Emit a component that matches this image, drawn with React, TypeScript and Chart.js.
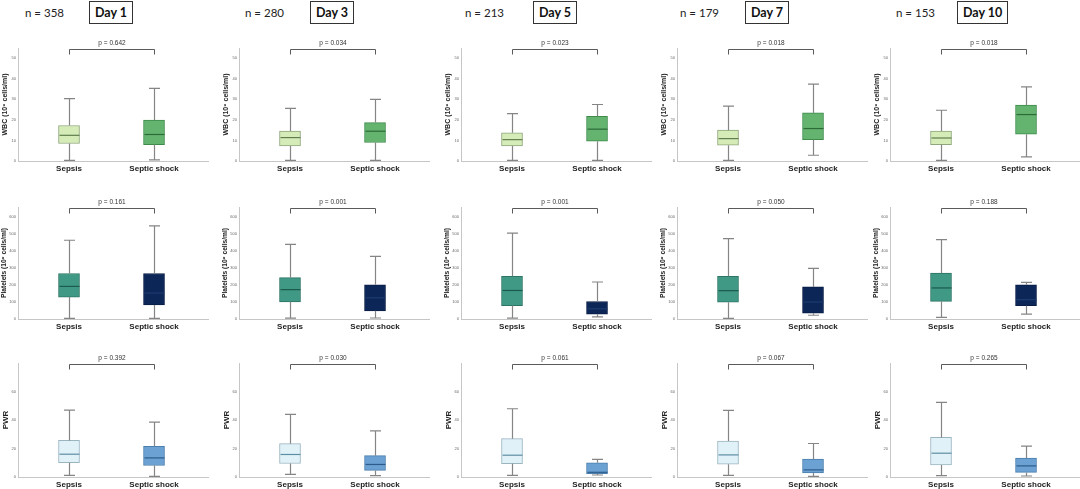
import { useEffect, useRef } from 'react';
import { Chart, registerables } from 'chart.js';

Chart.register(...registerables);

// ---------- data ----------
const days = ['Day 1', 'Day 3', 'Day 5', 'Day 7', 'Day 10'];
const nCounts = [358, 280, 213, 179, 153];
const groups = ['Sepsis', 'Septic shock'];

// [min, q1, median, q3, max] per day
const wbcSepsis = [
  [0.3, 8.5, 12.5, 17.3, 30.4],
  [0.3, 7.3, 11.4, 14.6, 25.6],
  [0.3, 7.3, 10.4, 13.7, 23.1],
  [0.3, 7.7, 10.9, 15.0, 26.7],
  [0.3, 8.0, 11.2, 14.6, 24.7],
];
const wbcShock = [
  [0.5, 8.0, 12.9, 19.9, 35.3],
  [0.3, 9.0, 14.5, 18.7, 30.0],
  [0.3, 9.6, 15.5, 21.8, 27.5],
  [2.8, 10.4, 15.8, 23.4, 37.4],
  [2.0, 13.0, 22.6, 27.2, 36.1],
];
const pltSepsis = [
  [4, 129, 192, 268, 464],
  [5, 101, 173, 244, 440],
  [5, 79, 168, 252, 506],
  [4, 99, 167, 252, 474],
  [9, 104, 183, 271, 468],
];
const pltShock = [
  [4, 83, 153, 268, 549],
  [6, 48, 125, 202, 369],
  [12, 28, 60, 103, 218],
  [22, 34, 100, 189, 298],
  [29, 78, 114, 202, 216],
];
const pwrSepsis = [
  [1.2, 10.0, 16.0, 25.7, 47.0],
  [1.9, 9.5, 15.8, 23.4, 44.0],
  [1.2, 9.3, 15.3, 26.9, 47.9],
  [1.1, 9.0, 15.5, 25.2, 46.7],
  [1.0, 8.5, 16.7, 27.8, 52.3],
];
const pwrShock = [
  [0.5, 8.1, 13.4, 21.5, 38.5],
  [1.0, 4.6, 8.8, 15.0, 32.4],
  [1.4, 2.3, 3.3, 10.0, 12.3],
  [0.4, 2.8, 5.0, 12.5, 23.5],
  [0.7, 3.2, 7.8, 13.2, 21.7],
];

const wbcP = ['0.642', '0.034', '0.023', '0.018', '0.018'];
const pltP = ['0.161', '0.001', '0.001', '0.050', '0.188'];
const pwrP = ['0.392', '0.030', '0.061', '0.067', '0.265'];

const wbcTicks = [0, 10, 20, 30, 40, 50];
const pltTicks = [0, 100, 200, 300, 400, 500, 600];
const pwrTicks = [0, 20, 40, 60];

// ---------- layout / style ----------
const AXIS_X = [18, 239, 461, 677, 890];
const HEADER_N_X = [25, 245, 465, 680, 896];
const HEADER_DAY_X = [89, 310, 533, 745, 957];
const PAD_TOP = 14;
const Y_AXIS_W = 18;
const PLOT_W = 190;
const X_AXIS_H = 12;
const FONT = '"Liberation Sans", Arial, sans-serif';

type RowCfg = {
  title: string;
  titleSize: number;
  ticks: number[];
  max: number;
  stats: number[][][];
  p: string[];
  fill: string[];
  border: string[];
  median: string[];
  chartTop: number;
  chartH: number;
};

const ROWS: RowCfg[] = [
  {
    title: 'WBC (10⁹ cells/ml)', titleSize: 7, ticks: wbcTicks, max: 55,
    stats: [wbcSepsis, wbcShock], p: wbcP,
    fill: ['#d5ecb8', '#64b470'], border: ['#8ea67c', '#3e8a4b'], median: ['#5f7d4e', '#2c6a37'],
    chartTop: 48, chartH: 113,
  },
  {
    title: 'Platelets (10⁹ cells/ml)', titleSize: 6.6, ticks: pltTicks, max: 660,
    stats: [pltSepsis, pltShock], p: pltP,
    fill: ['#409985', '#0c2658'], border: ['#2c7464', '#081c44'], median: ['#1b5a4c', '#1d3c70'],
    chartTop: 207, chartH: 112,
  },
  {
    title: 'PWR', titleSize: 8, ticks: pwrTicks, max: 80,
    stats: [pwrSepsis, pwrShock], p: pwrP,
    fill: ['#e0f1f8', '#6ba1d3'], border: ['#9ab4c0', '#4a7eac'], median: ['#5e8ea3', '#2d5c8a'],
    chartTop: 363, chartH: 114,
  },
];

function makeExtras(stats: number[][], medians: string[], pText: string) {
  return {
    id: 'boxExtras',
    afterDatasetsDraw(chart: any) {
      const { ctx, chartArea, scales } = chart;
      const xs = scales.x;
      const ys = scales.y;
      ctx.save();
      stats.forEach((s, i) => {
        const [mn, q1, md, q3, mx] = s;
        const px = Math.round(xs.getPixelForValue(i)) + 0.5;
        ctx.strokeStyle = '#858585';
        ctx.lineWidth = 1.2;
        ctx.beginPath();
        ctx.moveTo(px, ys.getPixelForValue(q3));
        ctx.lineTo(px, ys.getPixelForValue(mx));
        ctx.moveTo(px, ys.getPixelForValue(q1));
        ctx.lineTo(px, ys.getPixelForValue(mn));
        ctx.moveTo(px - 5.5, ys.getPixelForValue(mx));
        ctx.lineTo(px + 5.5, ys.getPixelForValue(mx));
        ctx.moveTo(px - 5.5, ys.getPixelForValue(mn));
        ctx.lineTo(px + 5.5, ys.getPixelForValue(mn));
        ctx.stroke();
        ctx.strokeStyle = medians[i];
        ctx.lineWidth = 1.2;
        ctx.beginPath();
        ctx.moveTo(px - 10, ys.getPixelForValue(md));
        ctx.lineTo(px + 10, ys.getPixelForValue(md));
        ctx.stroke();
      });
      // significance bracket
      const x0 = Math.round(xs.getPixelForValue(0)) + 0.5;
      const x1 = Math.round(xs.getPixelForValue(1)) + 0.5;
      const y0 = Math.round(chartArea.top) + 1.5;
      ctx.strokeStyle = '#5a5a5a';
      ctx.lineWidth = 1;
      ctx.beginPath();
      ctx.moveTo(x0, y0 + 5);
      ctx.lineTo(x0, y0);
      ctx.lineTo(x1, y0);
      ctx.lineTo(x1, y0 + 5);
      ctx.stroke();
      ctx.fillStyle = '#333';
      ctx.font = `6.5px ${FONT}`;
      ctx.textAlign = 'center';
      ctx.textBaseline = 'middle';
      ctx.fillText(`p = ${pText}`, (x0 + x1) / 2, y0 - 6);
      ctx.restore();
    },
  };
}

function Panel({ row, col }: { row: number; col: number }) {
  const ref = useRef<HTMLCanvasElement | null>(null);
  const cfg = ROWS[row];
  const width = Y_AXIS_W + PLOT_W + 2;
  const height = PAD_TOP + cfg.chartH + X_AXIS_H;

  useEffect(() => {
    if (!ref.current) return;
    const stats = cfg.stats.map((g) => g[col]);
    const chart = new Chart(ref.current, {
      type: 'bar',
      data: {
        datasets: [
          {
            data: stats.map((s, i) => ({ x: i, y: [s[1], s[3]] })) as any,
            backgroundColor: cfg.fill,
            borderColor: cfg.border,
            borderWidth: 1,
            borderSkipped: false,
            barThickness: 21,
          },
        ],
      },
      options: {
        animation: false,
        responsive: false,
        maintainAspectRatio: false,
        events: [],
        layout: { padding: { top: PAD_TOP, right: 2, left: 0, bottom: 0 } },
        plugins: { legend: { display: false }, tooltip: { enabled: false } },
        scales: {
          x: {
            type: 'linear',
            min: -0.6,
            max: 1.635,
            offset: false,
            grid: { display: false, drawTicks: false, offset: false },
            border: { display: true, color: '#c6c6c6', width: 1 },
            ticks: {
              font: { size: 8, weight: 'bold', family: FONT },
              color: '#222',
              padding: 3,
              maxRotation: 0,
              minRotation: 0,
              autoSkip: false,
              callback: (v: any) => groups[v as number] ?? '',
            },
            afterBuildTicks: (s: any) => {
              s.ticks = groups.map((_, i) => ({ value: i }));
            },
            afterFit: (s: any) => {
              s.height = X_AXIS_H;
            },
          },
          y: {
            min: 0,
            max: cfg.max,
            grid: { display: false, drawTicks: false },
            border: { display: true, color: '#c6c6c6', width: 1 },
            ticks: {
              font: { size: 4, family: FONT },
              color: '#666',
              padding: 2,
            },
            afterBuildTicks: (s: any) => {
              s.ticks = cfg.ticks.map((v) => ({ value: v }));
            },
            afterFit: (s: any) => {
              s.width = Y_AXIS_W;
            },
            title: {
              display: true,
              text: cfg.title,
              font: { size: cfg.titleSize, weight: 'bold', family: FONT },
              color: '#222',
              padding: { top: 0.5, bottom: 0 },
            },
          },
        },
      } as any,
      plugins: [makeExtras(stats, cfg.median, cfg.p[col])],
    });
    return () => chart.destroy();
  }, [row, col]);

  return (
    <canvas
      ref={ref}
      width={width}
      height={height}
      style={{
        position: 'absolute',
        left: AXIS_X[col] - Y_AXIS_W,
        top: cfg.chartTop - PAD_TOP,
        width,
        height,
      }}
    />
  );
}

export default function App() {
  return (
    <div
      style={{
        position: 'fixed',
        left: 0,
        top: 0,
        width: 1080,
        height: 489,
        background: '#fff',
        overflow: 'hidden',
      }}
    >
      {days.map((d, c) => (
        <div key={d}>
          <div
            style={{
              position: 'absolute',
              left: HEADER_N_X[c],
              top: 4,
              fontFamily: 'Lato, "Open Sans", sans-serif',
              fontSize: 11.5,
              color: '#222',
              lineHeight: '18px',
              whiteSpace: 'nowrap',
            }}
          >
            n = {nCounts[c]}
          </div>
          <div
            style={{
              position: 'absolute',
              left: HEADER_DAY_X[c],
              top: 1,
              height: 21,
              padding: '0 5px',
              border: '1.5px solid #333',
              fontFamily: 'Lato, "Open Sans", sans-serif',
              fontWeight: 'bold',
              fontSize: 12.5,
              lineHeight: '21px',
              color: '#111',
              whiteSpace: 'nowrap',
            }}
          >
            {d}
          </div>
        </div>
      ))}
      {ROWS.map((_, r) => days.map((d, c) => <Panel key={`${r}-${d}`} row={r} col={c} />))}
    </div>
  );
}
